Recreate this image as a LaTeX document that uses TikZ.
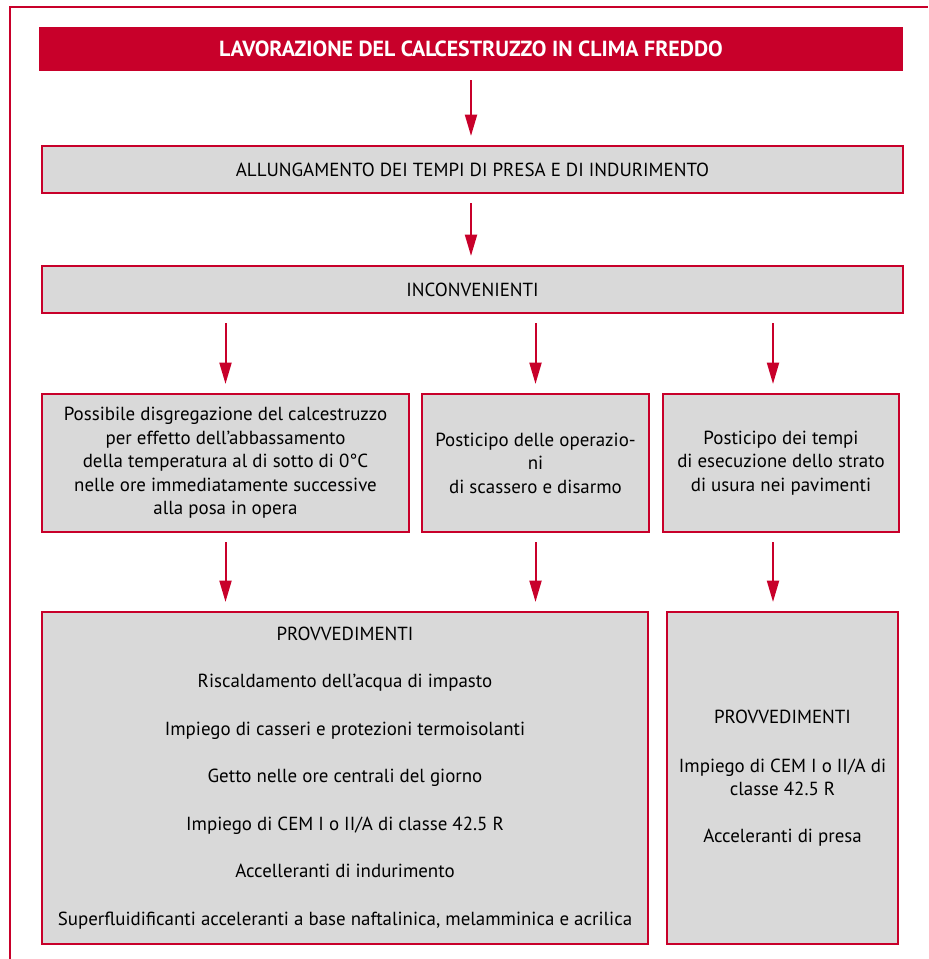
\documentclass[tikz,border=0pt]{standalone}
\usepackage{fontspec}
\setmainfont{PT Sans}
\usetikzlibrary{arrows.meta,positioning}

\definecolor{rossoCF}{RGB}{200,0,42}
\definecolor{grigioCF}{RGB}{217,217,217}

\tikzset{
  sz/.style 2 args={minimum width=#1*0.75pt,minimum height=#2*0.75pt},
  boxCF/.style={draw=rossoCF,fill=grigioCF,line width=1.6pt,inner sep=0pt,align=center,
    font=\fontsize{14.2}{17.6}\selectfont},
  titleCF/.style={fill=rossoCF,text=white,inner sep=0pt,align=center,
    font=\fontsize{16.4}{18}\selectfont\bfseries},
  arrCF/.style={draw=rossoCF,line width=1.5pt,-{Triangle[width=9pt,length=16pt]},
    shorten <=6.75pt,shorten >=6.75pt}
}

\begin{document}
\begin{tikzpicture}[x=0.75pt,y=0.75pt,yscale=-1,xscale=1]
\useasboundingbox (0,0) rectangle (928,959);

%Outer frame (cut at right and bottom)
\draw [draw=rossoCF,line width=1.5pt] (9.5,959) -- (9.5,7.5) -- (928,7.5) ;

% Title
\node [titleCF,sz={864}{44}] (titolo) at (471,49) {LAVORAZIONE DEL CALCESTRUZZO IN CLIMA FREDDO};
% Effects
\node [boxCF,sz={861}{47}] (allung) at (472.5,169.5) {ALLUNGAMENTO DEI TEMPI DI PRESA E DI INDURIMENTO};
\node [boxCF,sz={861}{47}] (inconv) at (472.5,289.5) {INCONVENIENTI};

% Drawbacks
\node [boxCF,sz={367}{138}] (disgr) at (225.5,463) {Possibile disgregazione del calcestruzzo\\per effetto dell’abbassamento\\della temperatura al di sotto di 0°C\\nelle ore immediatamente successive\\alla posa in opera};
\node [boxCF,sz={227}{138}] (disarmo) at (535.5,463) {Posticipo delle operazio-\\ni\\di scassero e disarmo};
\node [boxCF,sz={236}{138}] (usura) at (781,463) {Posticipo dei tempi\\di esecuzione dello strato\\di usura nei pavimenti};

% Measures
\node [boxCF,sz={606}{332}] (provA) at (345,778) {PROVVEDIMENTI\\[18pt]
  Riscaldamento dell’acqua di impasto\\[18pt]
  Impiego di casseri e protezioni termoisolanti\\[18pt]
  Getto nelle ore centrali del giorno\\[18pt]
  Impiego di CEM I o II/A di classe 42.5 R\\[18pt]
  Accelleranti di indurimento\\[18pt]
  Superfluidificanti acceleranti a base naftalinica, melamminica e acrilica};
\node [boxCF,sz={231}{332}] (provB) at (782.5,778) {PROVVEDIMENTI\\[19pt]
  Impiego di CEM I o II/A di\\classe 42.5 R\\[17.6pt]
  Acceleranti di presa};

% Arrows
\draw [arrCF] (titolo.south) -- (titolo.south |- allung.north) ;
\draw [arrCF] (allung.south -| titolo.south) -- (inconv.north -| titolo.south) ;
\draw [arrCF] (inconv.south -| disgr.north) -- (disgr.north) ;
\draw [arrCF] (inconv.south -| disarmo.north) -- (disarmo.north) ;
\draw [arrCF] ([xshift=-6pt]inconv.south -| usura.north) -- ([xshift=-6pt]usura.north) ;
\draw [arrCF] (disgr.south) -- (disgr.south |- provA.north) ;
\draw [arrCF] (disarmo.south) -- (disarmo.south |- provA.north) ;
\draw [arrCF] ([xshift=-6pt]usura.south) -- ([xshift=-6pt]usura.south |- provB.north) ;

\end{tikzpicture}
\end{document}
